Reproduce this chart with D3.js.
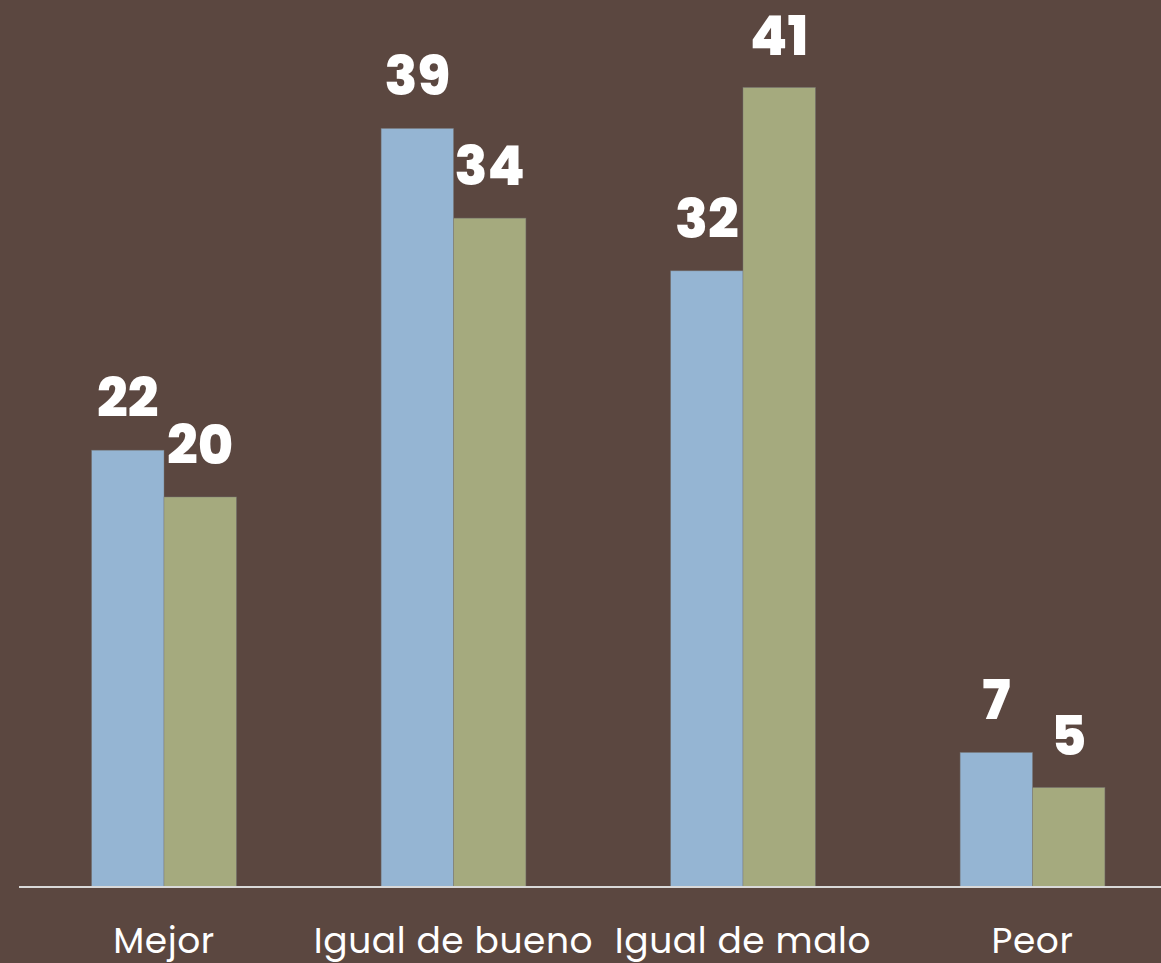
<!DOCTYPE html>
<html>
<head>
<meta charset="utf-8">
<script src="https://cdn.jsdelivr.net/npm/d3@7"></script>
<style>
  html, body { margin: 0; padding: 0; background: #5b4740; }
  svg { display: block; }
</style>
</head>
<body>
<svg id="chart" width="1161" height="963"></svg>
<script>
// Chart data
const categories = ['Mejor', 'Igual de bueno', 'Igual de malo', 'Peor']
const seriesNames = ['Serie 1', 'Serie 2']
const serie1 = [22.4, 38.9, 31.6, 6.9]
const serie2 = [20.0, 34.3, 41.0, 5.1]

const colors = ['#95b5d3', '#a5aa7e']

const width = 1161
const baseline = 887

const svg = d3.select('#chart')

const rows = categories.map((c, i) => ({ category: c, values: [serie1[i], serie2[i]] }))

// Scales
const x0 = d3.scaleBand()
  .domain(categories)
  .range([19.25, 1177.25])
  .paddingInner(0.5)
  .paddingOuter(0.25)

const x1 = d3.scaleBand()
  .domain(seriesNames)
  .range([0, x0.bandwidth()])

const y = d3.scaleLinear()
  .domain([0, 41])
  .range([baseline, 87.5])

const fmt = d3.format('.0f')

// Bars
const groups = svg.selectAll('.group')
  .data(rows)
  .enter()
  .append('g')
  .attr('class', 'group')
  .attr('transform', (d) => `translate(${x0(d.category)},0)`)

groups.selectAll('rect')
  .data((d) => d.values.map((v, i) => ({ key: seriesNames[i], value: v, idx: i })))
  .enter()
  .append('rect')
  .attr('x', (d) => x1(d.key))
  .attr('y', (d) => y(d.value))
  .attr('width', x1.bandwidth())
  .attr('height', (d) => baseline - y(d.value))
  .attr('fill', (d) => colors[d.idx])
  .attr('stroke', 'rgba(120,120,120,0.6)')
  .attr('stroke-width', 0.75)

// Value labels
groups.selectAll('.value')
  .data((d) => d.values.map((v, i) => ({ key: seriesNames[i], value: v })))
  .enter()
  .append('text')
  .attr('class', 'value')
  .attr('x', (d) => x1(d.key) + x1.bandwidth() / 2)
  .attr('y', (d) => y(d.value) - 33)
  .attr('text-anchor', 'middle')
  .style('font-family', "Poppins, 'Open Sans', sans-serif")
  .style('font-weight', 800)
  .style('font-size', '54px')
  .style('fill', '#ffffff')
  .text((d) => fmt(d.value))

// Baseline axis
const axis = d3.axisBottom(x0).tickSize(0).tickPadding(0)
const axisG = svg.append('g')
  .attr('transform', `translate(0,${baseline})`)
  .call(axis)

axisG.select('.domain').remove()
axisG.append('line')
  .attr('x1', 19)
  .attr('x2', width)
  .attr('y1', 0)
  .attr('y2', 0)
  .attr('stroke', '#d9d9d9')
  .attr('stroke-width', 2)

axisG.selectAll('.tick text')
  .attr('y', 66)
  .attr('dy', 0)
  .style('font-family', "Poppins, 'Open Sans', sans-serif")
  .style('font-weight', 400)
  .style('font-size', '36px')
  .style('letter-spacing', '0.6px')
  .style('fill', '#ffffff')
</script>
</body>
</html>
